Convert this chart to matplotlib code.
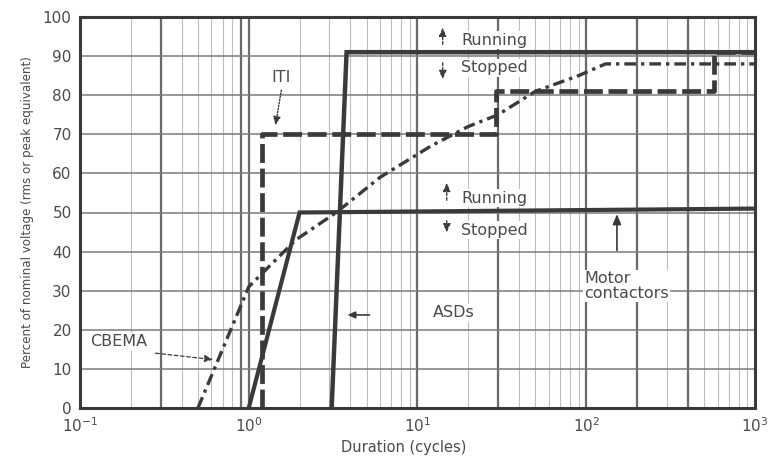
import matplotlib
matplotlib.use("Agg")
import numpy as np
from matplotlib import pyplot as plt
from matplotlib.ticker import FixedLocator, NullFormatter

# curves (x in cycles, y in percent)
asd_x = [3.1, 3.8, 1000]
asd_y = [0, 91, 91]

motor_x = [1.0, 2.0, 1000]
motor_y = [0, 50, 51]

iti_x = [1.2, 1.2, 29, 29, 570, 570, 1000]
iti_y = [0, 70, 70, 81, 81, 91, 91]

cbema_x = [0.5, 1.0, 1.9, 3.3, 6.0, 12, 20, 30, 50, 90, 130, 1000]
cbema_y = [0, 31, 43, 50, 59, 67, 72, 75, 81, 85, 88, 88]

x_ticks = [0.1, 1, 10, 100, 1000]
x_tick_labels = ["10$^{-1}$", "10$^{0}$", "10$^{1}$", "10$^{2}$", "10$^{3}$"]
y_ticks = list(range(0, 101, 10))
heavy_x = [0.3, 0.9, 1, 10, 30, 100, 200, 400]

ink = "#3a3a3a"
txt = "#4a4a4a"

fig = plt.figure(figsize=(7.81, 4.57), dpi=100)
ax = fig.add_axes([80 / 781, 1 - 408 / 457, 675 / 781, 391 / 457])
ax.set_xscale("log")
ax.set_xlim(0.1, 1000)
ax.set_ylim(0, 100)

# graph paper
minor = [m * 10.0 ** e for e in range(-1, 3) for m in range(2, 10)]
for xv in minor:
    ax.axvline(xv, color="#bdbdbd", lw=0.8, zorder=0)
for xv in heavy_x:
    ax.axvline(xv, color="#6a6a6a", lw=1.6, zorder=0)
for yv in y_ticks[1:-1]:
    ax.axhline(yv, color="#7a7a7a", lw=1.1, zorder=0)

ax.plot(asd_x, asd_y, color=ink, lw=3.2, solid_joinstyle="miter", zorder=3)
ax.plot(motor_x, motor_y, color=ink, lw=3.0, solid_joinstyle="miter", zorder=3)
ax.plot(iti_x, iti_y, color=ink, lw=3.4, dashes=(4, 1.2), zorder=3)
ax.plot(cbema_x, cbema_y, color=ink, lw=2.4, dashes=(3.5, 1.5, 1, 1.5), zorder=3)

ax.xaxis.set_major_locator(FixedLocator(x_ticks))
ax.xaxis.set_minor_formatter(NullFormatter())
ax.set_xticks(x_ticks)
ax.set_xticklabels(x_tick_labels)
ax.set_yticks(y_ticks)
ax.tick_params(axis="both", which="both", length=0, labelsize=11, colors=txt, pad=6)
ax.tick_params(axis="x", which="minor", length=0)
for s in ax.spines.values():
    s.set_linewidth(2.2)
    s.set_color(ink)

ax.set_xlabel("Duration (cycles)", fontsize=10.5, color=txt)
ax.xaxis.set_label_coords(0.48, -0.082)
ax.set_ylabel("Percent of nominal voltage (rms or peak equivalent)", fontsize=8.6, color=txt, labelpad=6)

box = dict(facecolor="white", edgecolor="none", pad=1.0)
fs = 11.5

# running / stopped markers
ax.text(18.2, 94.1, "Running", fontsize=fs, color=txt, va="center", ha="left", bbox=box, zorder=4)
ax.text(18.2, 87.0, "Stopped", fontsize=fs, color=txt, va="center", ha="left", bbox=box, zorder=4)
ax.text(18.2, 53.7, "Running", fontsize=fs, color=txt, va="center", ha="left", bbox=box, zorder=4)
ax.text(18.2, 45.5, "Stopped", fontsize=fs, color=txt, va="center", ha="left", bbox=box, zorder=4)

arr = dict(arrowstyle="-|>,head_length=0.5,head_width=0.22", color=ink, lw=1.0, linestyle=(0, (2, 1.5)))
ax.annotate("", xy=(14.1, 98.0), xytext=(14.1, 92.3), arrowprops=arr, zorder=4)
ax.annotate("", xy=(14.1, 83.4), xytext=(14.1, 89.0), arrowprops=arr, zorder=4)
ax.annotate("", xy=(14.9, 58.3), xytext=(14.9, 52.4), arrowprops=arr, zorder=4)
ax.annotate("", xy=(14.9, 44.2), xytext=(14.9, 48.6), arrowprops=arr, zorder=4)

solid = dict(arrowstyle="-|>,head_length=0.6,head_width=0.25", color=ink, lw=1.2)
ax.annotate("", xy=(152, 50.3), xytext=(152, 39.6), arrowprops=solid, zorder=4)
ax.text(97, 31.2, "Motor\ncontactors", fontsize=fs, color=txt, va="center", ha="left",
        linespacing=0.95, bbox=box, zorder=4)

ax.text(12.3, 24.3, "ASDs", fontsize=fs, color=txt, va="center", ha="left", bbox=box, zorder=4)
ax.annotate("", xy=(3.7, 23.8), xytext=(5.4, 23.8),
            arrowprops=dict(arrowstyle="-|>,head_length=0.45,head_width=0.2", color=ink, lw=1.2),
            zorder=4)

ax.text(0.115, 16.9, "CBEMA", fontsize=fs, color=txt, va="center", ha="left", bbox=box, zorder=4)
ax.annotate("", xy=(0.64, 12.3), xytext=(0.27, 14.1),
            arrowprops=dict(arrowstyle="-|>,head_length=0.5,head_width=0.2", color=ink, lw=0.9,
                            linestyle=(0, (3, 2))), zorder=4)

ax.text(1.55, 84.4, "ITI", fontsize=fs, color=txt, va="center", ha="center", bbox=box, zorder=4)
ax.annotate("", xy=(1.43, 71.6), xytext=(1.57, 82.0),
            arrowprops=dict(arrowstyle="-|>,head_length=0.5,head_width=0.22", color=ink, lw=1.0,
                            linestyle=(0, (1, 1.2))), zorder=4)

fig.savefig("out.png", dpi=100)
